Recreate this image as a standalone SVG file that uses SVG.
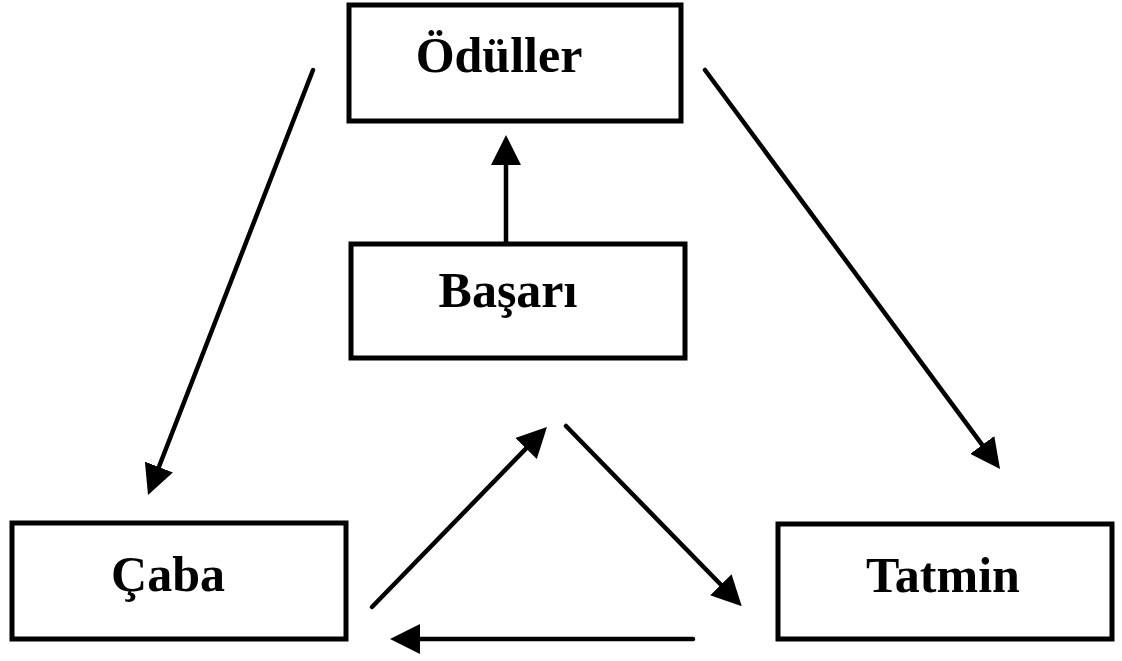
<svg xmlns="http://www.w3.org/2000/svg" width="1122" height="661" viewBox="0 0 1122 661">
  <style>
    .box { fill: #ffffff; stroke: #000000; stroke-width: 5; }
    .label { font-family: "Liberation Serif", "Times New Roman", serif; font-weight: bold; font-size: 50px; fill: #000000; text-anchor: middle; }
    .link { stroke: #000000; stroke-width: 4.5; fill: none; stroke-linecap: round; marker-end: url(#head); }
  </style>
  <defs>
    <marker id="head" viewBox="0 0 30 30" markerWidth="30" markerHeight="30" refX="19" refY="15" markerUnits="userSpaceOnUse" orient="auto">
      <path d="M0,0 L30,15 L0,30 Z" fill="#000000"/>
    </marker>
  </defs>
  <rect width="1122" height="661" fill="#ffffff"/>

  <g id="oduller">
    <rect class="box" x="349" y="5" width="332" height="116"/>
    <text class="label" x="499" y="72">Ödüller</text>
  </g>
  <g id="basari">
    <rect class="box" x="351" y="244" width="334" height="114"/>
    <text class="label" x="508" y="307">Başarı</text>
  </g>
  <g id="caba">
    <rect class="box" x="12" y="523" width="334" height="116"/>
    <text class="label" x="168" y="591">Çaba</text>
  </g>
  <g id="tatmin">
    <rect class="box" x="778" y="524" width="334" height="115"/>
    <text class="label" x="943" y="592">Tatmin</text>
  </g>

  <g id="connectors">
    <!-- Başarı -> Ödüller -->
    <line class="link" x1="506" y1="242" x2="506" y2="146"/>
    <!-- Ödüller -> Çaba -->
    <line class="link" x1="313" y1="70" x2="152" y2="484.7"/>
    <!-- Ödüller -> Tatmin -->
    <line class="link" x1="705" y1="70" x2="993.5" y2="460.2"/>
    <!-- Çaba -> Başarı -->
    <line class="link" x1="372" y1="607" x2="539.3" y2="434.9"/>
    <!-- Başarı -> Tatmin -->
    <line class="link" x1="566" y1="426" x2="734.1" y2="598.3"/>
    <!-- Tatmin -> Çaba -->
    <line class="link" x1="693" y1="639" x2="401" y2="639"/>
  </g>
</svg>
